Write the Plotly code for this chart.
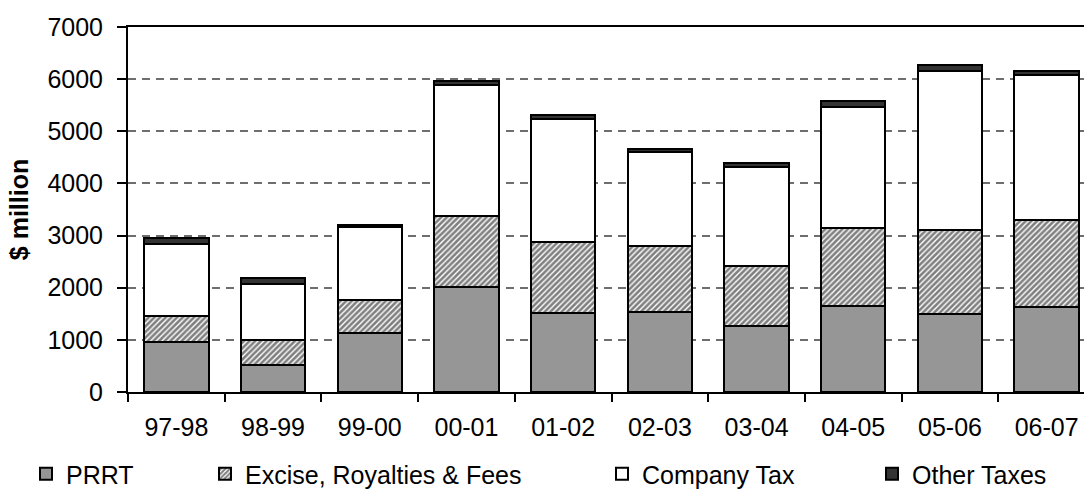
import plotly.graph_objects as go

# Financial years
years = ["97-98", "98-99", "99-00", "00-01", "01-02", "02-03", "03-04", "04-05", "05-06", "06-07"]

# Revenue by component ($ million)
prrt = [958, 525, 1138, 2011, 1513, 1527, 1259, 1648, 1494, 1628]
excise_royalties_fees = [492, 479, 624, 1361, 1368, 1277, 1155, 1501, 1617, 1680]
company_tax = [1393, 1073, 1399, 2523, 2356, 1794, 1910, 2324, 3052, 2772]
other_taxes = [107, 107, 50, 63, 83, 70, 71, 109, 115, 83]

y_ticks = [0, 1000, 2000, 3000, 4000, 5000, 6000, 7000]

W, H = 1084, 489
FONT = "Liberation Sans, Arial, sans-serif"
outline = dict(color="black", width=2)

fig = go.Figure()
fig.add_trace(go.Bar(x=years, y=prrt, name="PRRT", legend="legend",
                     marker=dict(color="#969696", line=outline)))
fig.add_trace(go.Bar(x=years, y=excise_royalties_fees, name="Excise, Royalties & Fees", legend="legend2",
                     marker=dict(color="white", line=outline,
                                 pattern=dict(shape="/", fgcolor="black", bgcolor="white",
                                              size=4, solidity=0.65))))
fig.add_trace(go.Bar(x=years, y=company_tax, name="Company Tax", legend="legend3",
                     marker=dict(color="white", line=outline)))
fig.add_trace(go.Bar(x=years, y=other_taxes, name="Other Taxes", legend="legend4",
                     marker=dict(color="#333333", line=outline)))

legend_font = dict(family=FONT, size=25, color="black")
legend_common = dict(xref="container", yref="container", xanchor="left", yanchor="middle",
                     y=1 - 474 / H, font=legend_font, bgcolor="rgba(0,0,0,0)",
                     borderwidth=0, orientation="h")

fig.update_layout(
    width=W, height=H,
    margin=dict(l=128, r=0, t=27, b=97),
    paper_bgcolor="white", plot_bgcolor="white",
    barmode="stack", bargap=0.334,
    font=dict(family=FONT, size=25, color="black"),
    showlegend=True,
    legend=dict(x=26 / W, **legend_common),
    legend2=dict(x=205 / W, **legend_common),
    legend3=dict(x=602 / W, **legend_common),
    legend4=dict(x=872 / W, **legend_common),
    xaxis=dict(
        type="category", range=[-0.5, 9.386],
        showline=True, linecolor="black", linewidth=2, mirror=True,
        ticks="outside", tickson="boundaries", ticklen=8, tickwidth=2, tickcolor="black",
        ticklabelstandoff=12,
        showgrid=False, tickfont=dict(size=25),
    ),
    yaxis=dict(
        range=[0, 7000], tickvals=y_ticks,
        showline=True, linecolor="black", linewidth=2,
        ticks="outside", ticklen=9, tickwidth=2, tickcolor="black",
        ticklabelstandoff=9,
        showgrid=True, gridcolor="#6e6e6e", gridwidth=1.5, griddash="8px,6px",
        zeroline=False, tickfont=dict(size=25),
        title=dict(text="<b>$ million</b>", font=dict(size=25), standoff=12),
    ),
)

fig.write_html("out.html")
